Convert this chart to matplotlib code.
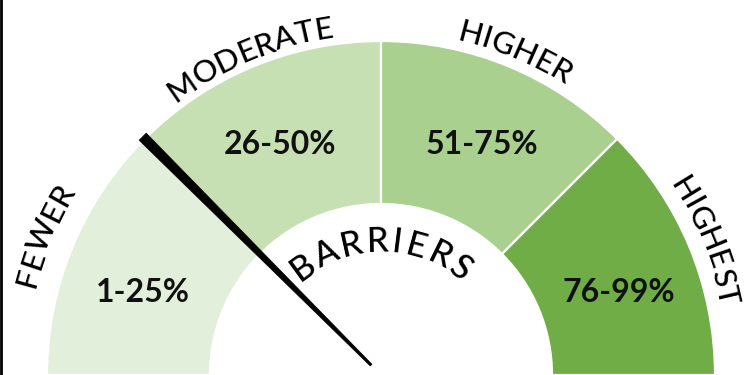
import numpy as np
import matplotlib
matplotlib.use('Agg')
import matplotlib.pyplot as plt
from matplotlib.patches import Wedge, Polygon
from matplotlib.lines import Line2D
from matplotlib.font_manager import FontProperties

# gauge data
bounds = [0, 25, 50, 75, 100]
categories = ['FEWER', 'MODERATE', 'HIGHER', 'HIGHEST']
ranges = ['1-25%', '26-50%', '51-75%', '76-99%']
colors = ['#e2efda', '#c6e0b4', '#a9d08e', '#70ad47']
needle_value = 25
center_label = 'BARRIERS'

FAMILY = ['Lato', 'DejaVu Sans']
plt.rcParams['font.family'] = FAMILY

R_OUT = 334
R_IN = 171
CX, CY = 0, -1


def ang(v):
    # value (0..100) -> angle in degrees, 180 at left, 0 at right
    return 180.0 - 180.0 * v / 100.0


def curved_text(ax, renderer, s, radius, theta_c, size, weight='normal', tracking=0.0):
    # text running clockwise along a circle, centred on theta_c
    fp = FontProperties(family=FAMILY, size=size, weight=weight)
    widths = [0.0]
    for i in range(1, len(s) + 1):
        w, h, d = renderer.get_text_width_height_descent(s[:i], fp, ismath=False)
        widths.append(w + tracking * (i - 1))
    total = widths[-1]
    for i, ch in enumerate(s):
        start = widths[i] + (tracking if i > 0 else 0)
        w_ch = widths[i + 1] - start
        pos = start + w_ch / 2.0 - total / 2.0
        th = theta_c - np.degrees(pos / radius)
        x = CX + radius * np.cos(np.radians(th))
        y = CY + radius * np.sin(np.radians(th))
        ax.text(x, y, ch, rotation=th - 90, rotation_mode='anchor', ha='center', va='center',
                fontproperties=fp, color='black')


fig = plt.figure(figsize=(7.44, 3.75), dpi=100)
ax = fig.add_axes([0, 0, 1, 1])
ax.set_xlim(-381, 363)
ax.set_ylim(-1, 374)
ax.set_aspect('equal')
ax.axis('off')
fig.canvas.draw()
renderer = fig.canvas.get_renderer()

for i, cat in enumerate(categories):
    t1, t2 = ang(bounds[i + 1]), ang(bounds[i])
    ax.add_patch(Wedge((CX, CY), R_OUT, t1, t2, width=R_OUT - R_IN,
                       facecolor=colors[i], edgecolor='white', linewidth=1.6))
    mid = (t1 + t2) / 2.0
    # outer labels sit a little closer to the horizontal
    mid = 90 + (mid - 90) * 1.05
    ax.text(CX + 252 * np.cos(np.radians(mid)), CY + 252 * np.sin(np.radians(mid)), ranges[i],
            ha='center', va='center', fontsize=23, fontweight='bold', color='#111111')

cat_radius = [366, 350, 352, 355]
for i, cat in enumerate(categories):
    mid = (ang(bounds[i + 1]) + ang(bounds[i])) / 2.0
    curved_text(ax, renderer, cat, cat_radius[i], mid, 22.5, weight='medium', tracking=0.5)

curved_text(ax, renderer, center_label, 133, 90, 25, weight='medium', tracking=4)

# needle
th = np.radians(ang(needle_value))
u = np.array([np.cos(th), np.sin(th)])
n = np.array([-u[1], u[0]])
r0, r1 = 14, 337
w0, w1 = 1.2, 5.0
base = np.array([CX, CY])
pts = [base + u * r0 + n * w0, base + u * r1 + n * w1, base + u * r1 - n * w1, base + u * r0 - n * w0]
ax.add_patch(Polygon(pts, closed=True, facecolor='black', edgecolor='black', linewidth=0.5, zorder=5))

fig.add_artist(Line2D([0.002, 0.002], [0, 1], color='black', linewidth=2, transform=fig.transFigure))

fig.savefig('out.png', dpi=100)
